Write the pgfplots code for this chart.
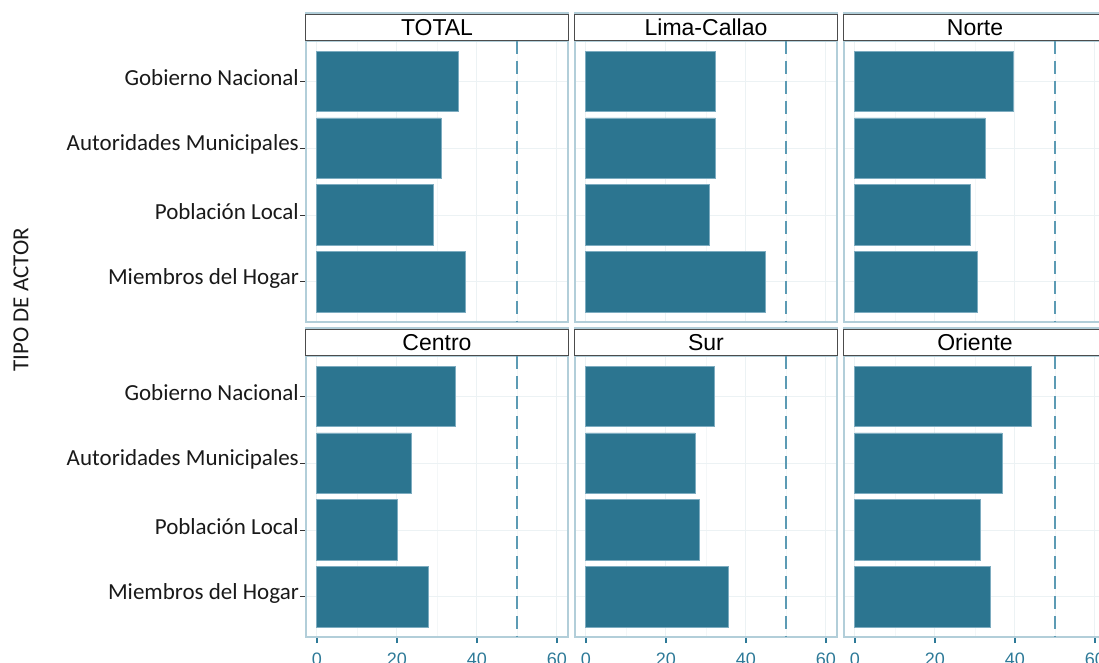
\documentclass[border=0pt]{standalone}
\usepackage{pgfplots}
\usepackage{pgfplotstable}
\pgfplotsset{compat=1.18}
\usepackage{fontspec}
\setmainfont{Carlito}
\newfontfamily\arial{Liberation Sans}
\definecolor{barc}{RGB}{44,117,144}
\definecolor{baredge}{RGB}{125,172,192}
\definecolor{framec}{RGB}{178,206,217}
\definecolor{tickc}{RGB}{46,122,152}
\definecolor{dashc}{RGB}{92,155,180}
\definecolor{gridc}{RGB}{236,242,244}
\definecolor{labc}{RGB}{25,25,25}

\pgfplotstableread{
id val
1 35.4
2 31.1
3 29.1
4 37.1
}\tTotal
\pgfplotstableread{
id val
1 32.4
2 32.3
3 31.0
4 44.9
}\tLima
\pgfplotstableread{
id val
1 39.6
2 32.6
3 29.0
4 30.6
}\tNorte
\pgfplotstableread{
id val
1 34.7
2 23.6
3 20.1
4 27.9
}\tCentro
\pgfplotstableread{
id val
1 32.2
2 27.3
3 28.3
4 35.6
}\tSur
\pgfplotstableread{
id val
1 44.2
2 36.8
3 31.5
4 34.0
}\tOriente

\pgfplotsset{
  panel/.style={
    scale only axis, width=262pt, height=281pt,
    xmin=-2.7, xmax=62.8, ymin=0.4, ymax=4.6, y dir=reverse,
    xtick={0,20,40,60}, ytick={1,2,3,4},
    minor xtick={10,30,50},
    xtick pos=bottom, ytick pos=left,
    axis line style={framec, line width=1.5pt},
    xmajorgrids, ymajorgrids, xminorgrids,
    major grid style={gridc, line width=0.8pt},
    minor grid style={gridc!60, line width=0.6pt},
    tick align=outside, major tick length=6pt, minor tick length=0pt,
    x tick label style={font=\arial\fontsize{18}{20}\selectfont, text=tickc, yshift=-6pt},
    y tick label style={font=\fontsize{23}{26}\selectfont, text=labc, inner xsep=1pt, yshift=3.5pt},
    xtick style={tickc, line width=1.5pt},
    ytick style={black!80, line width=0.8pt},
    /pgf/number format/assume math mode=true,
    clip=false,
    xbar, bar width=0.9,
  },
  firstcol/.style={yticklabels={Gobierno Nacional, Autoridades Municipales, Población Local, Miembros del Hogar}},
  othercol/.style={yticklabels={}, ytick style={draw=none}},
  toprow/.style={xticklabels={}, xtick style={draw=none}},
}

\newcommand{\panelbody}[2]{%
  \draw[framec, line width=1.5pt] (rel axis cs:0,0) rectangle ([yshift=28pt]rel axis cs:1,1);
  \addplot[fill=barc, draw=baredge, line width=0.8pt] table[x=val, y=id] {#1};
  \draw[dashc, line width=2pt, dash pattern=on 13pt off 7pt] (axis cs:50,0.4) -- (axis cs:50,4.6);
  \node[draw=black!70, fill=white, line width=0.8pt, minimum width=263pt, minimum height=26pt, inner sep=0pt, anchor=south, font=\arial\fontsize{23}{26}\selectfont] at ([yshift=0.3pt]rel axis cs:0.5,1) {#2};
}

\begin{document}
\begin{tikzpicture}
\path[use as bounding box, clip] (0,0) rectangle (1099pt,663pt);

\node[rotate=90, font=\fontsize{23}{26}\selectfont, text=labc] at (21pt,363pt) {TIPO DE ACTOR};

% Row 1
\begin{axis}[panel, firstcol, toprow, at={(306pt,341pt)}, anchor=south west]
\panelbody{\tTotal}{TOTAL}
\end{axis}
\begin{axis}[panel, othercol, toprow, at={(575pt,341pt)}, anchor=south west]
\panelbody{\tLima}{Lima-Callao}
\end{axis}
\begin{axis}[panel, othercol, toprow, at={(844pt,341pt)}, anchor=south west]
\panelbody{\tNorte}{Norte}
\end{axis}

% Row 2
\begin{axis}[panel, firstcol, at={(306pt,26pt)}, anchor=south west]
\panelbody{\tCentro}{Centro}
\end{axis}
\begin{axis}[panel, othercol, at={(575pt,26pt)}, anchor=south west]
\panelbody{\tSur}{Sur}
\end{axis}
\begin{axis}[panel, othercol, at={(844pt,26pt)}, anchor=south west]
\panelbody{\tOriente}{Oriente}
\end{axis}
\end{tikzpicture}
\end{document}
